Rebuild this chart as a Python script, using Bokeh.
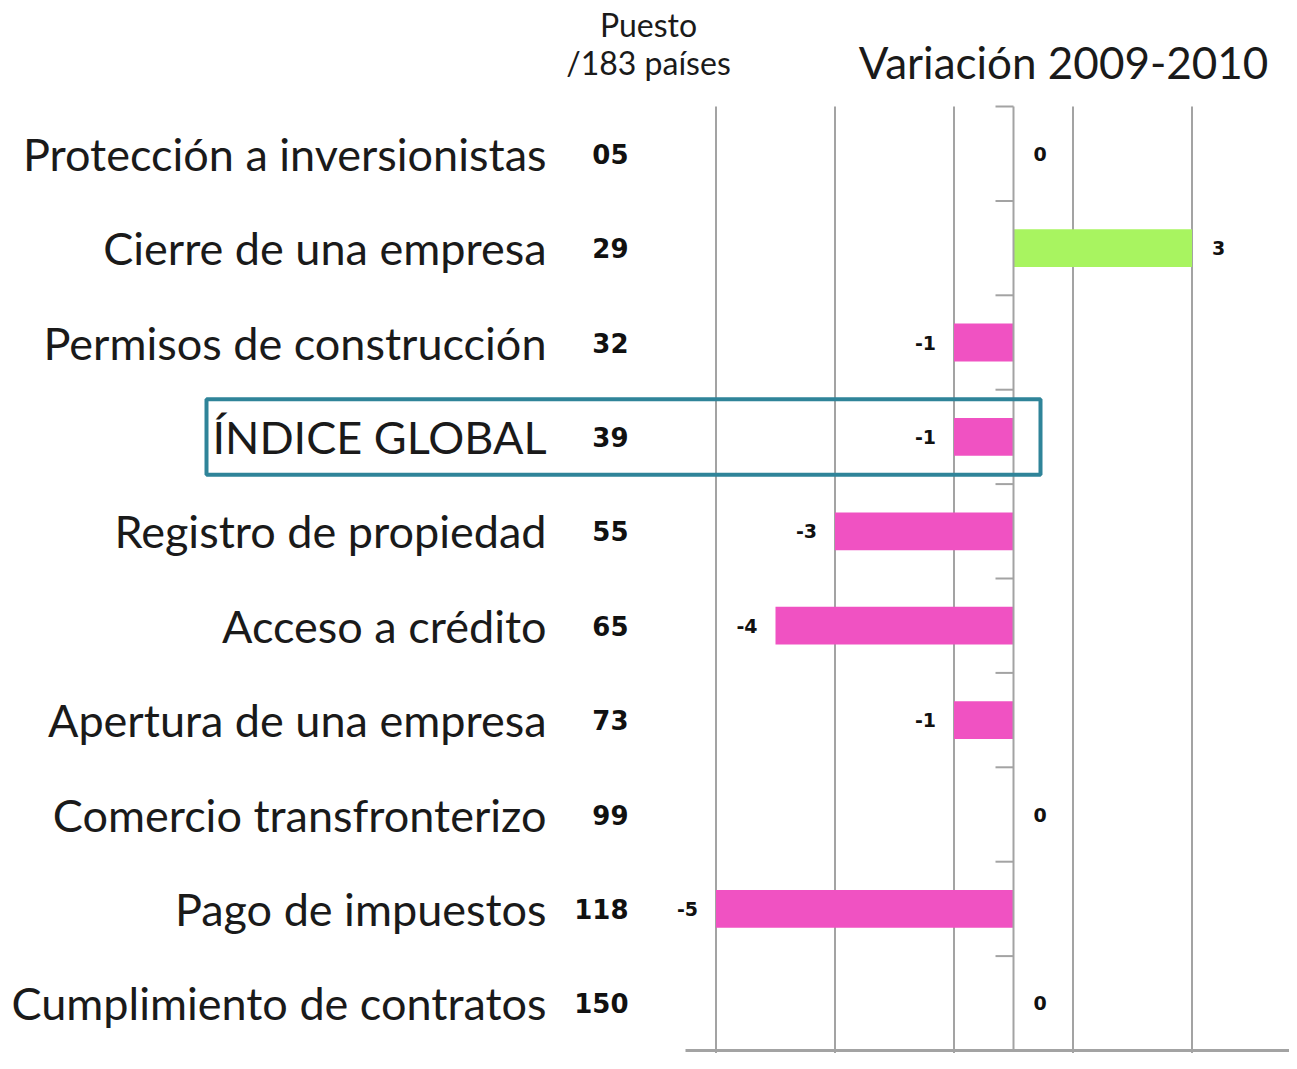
from bokeh.plotting import figure
from bokeh.models import Range1d, ColumnDataSource
from bokeh.core.properties import value
from bokeh.embed import file_html
from bokeh.resources import INLINE

# ---------------- data ----------------
categories = [
    "Protección a inversionistas",
    "Cierre de una empresa",
    "Permisos de construcción",
    "ÍNDICE GLOBAL",
    "Registro de propiedad",
    "Acceso a crédito",
    "Apertura de una empresa",
    "Comercio transfronterizo",
    "Pago de impuestos",
    "Cumplimiento de contratos",
]
ranks = ["05", "29", "32", "39", "55", "65", "73", "99", "118", "150"]
variation = [0, 3, -1, -1, -3, -4, -1, 0, -5, 0]
grid_ticks = [-5, -3, -1, 1, 3]
highlight = "ÍNDICE GLOBAL"
title_text = "Variación 2009-2010"
rank_header = ["Puesto", "/183 países"]

# ---------------- layout (pixels) ----------------
W, H = 1289, 1053
UX = 59.5      # px per unit of variation
RH = 94.4      # px per category row
ZERO_X = 1013  # px of value 0 inside the canvas
TOP_Y = 106    # px of the top of the first row

n = len(categories)
rows = [i + 0.5 for i in range(n)]

def xd(px):
    return (px - ZERO_X) / UX

def yd(px):
    return (px - TOP_Y) / RH

p = figure(width=W, height=H, output_backend="svg", toolbar_location=None,
           x_range=Range1d(xd(0), xd(W)), y_range=Range1d(yd(H), yd(0)),
           x_axis_location=None, y_axis_location=None, min_border=0)
p.title.visible = False
p.grid.visible = False
p.outline_line_color = None
p.background_fill_color = "white"
p.border_fill_color = "white"

GRID = "#a3a3a3"

# vertical grid lines
p.segment(x0=grid_ticks, y0=[0] * len(grid_ticks), x1=grid_ticks, y1=[n] * len(grid_ticks),
          line_color=GRID, line_width=2)
# tick marks below the bottom axis
p.segment(x0=grid_ticks, y0=[n] * len(grid_ticks), x1=grid_ticks,
          y1=[n + 5 / RH] * len(grid_ticks), line_color=GRID, line_width=2)

# bars
bar_rows = [r for r, v in zip(rows, variation) if v != 0]
bar_vals = [v for v in variation if v != 0]
bar_cols = ["#a8f460" if v > 0 else "#f052c2" for v in bar_vals]
p.hbar(y=bar_rows, left=0, right=bar_vals, height=0.4, fill_color=bar_cols, line_color=None)

# category axis at zero with boundary ticks
p.segment(x0=[0], y0=[0], x1=[0], y1=[n], line_color=GRID, line_width=2)
bounds = list(range(n + 1))
p.segment(x0=[xd(ZERO_X - 18)] * len(bounds), y0=bounds, x1=[0] * len(bounds), y1=bounds,
          line_color=GRID, line_width=2)
# bottom axis line
p.segment(x0=[xd(685)], y0=[n], x1=[xd(W)], y1=[n], line_color=GRID, line_width=3)

# value labels
pos = ColumnDataSource(dict(x=[v for v in variation if v >= 0],
                            y=[r for r, v in zip(rows, variation) if v >= 0],
                            t=[str(v) for v in variation if v >= 0]))
neg = ColumnDataSource(dict(x=[v for v in variation if v < 0],
                            y=[r for r, v in zip(rows, variation) if v < 0],
                            t=[str(v) for v in variation if v < 0]))
for src, align, off in ((pos, "left", 20), (neg, "right", -18)):
    p.text(x="x", y="y", text="t", source=src, text_align=align, text_baseline="middle",
           x_offset=off, text_font=value("DejaVu Sans"), text_font_style="bold",
           text_font_size=value("19px"), text_color="#111111")

# category names
p.text(x=[xd(546)] * n, y=rows, text=categories, text_align="right", text_baseline="middle",
       text_font=value("Lato"), text_font_size=value("45px"), text_color="#1a1a1a")

# ranks
p.text(x=[xd(628)] * n, y=rows, text=ranks, text_align="right", text_baseline="middle",
       text_font=value("DejaVu Sans"), text_font_style="bold", text_font_size=value("26px"),
       text_color="#111111")

# headers
p.text(x=[xd(648)] * 2, y=[yd(24), yd(62)], text=rank_header, text_align="center",
       text_baseline="middle", text_font=value("Lato"), text_font_size=value("32px"),
       text_color="#1a1a1a")
p.text(x=[xd(1063)], y=[yd(61)], text=[title_text], text_align="center",
       text_baseline="middle", text_font=value("Lato"), text_font_size=value("44px"),
       text_color="#1a1a1a")

# highlight box around the global index row
hi = categories.index(highlight)
p.quad(left=[xd(206)], right=[xd(1040)], top=[hi + 0.1], bottom=[hi + 0.9],
       fill_alpha=0, line_color="#2f8499", line_width=4)

open("out.html", "w").write(file_html(p, INLINE))
